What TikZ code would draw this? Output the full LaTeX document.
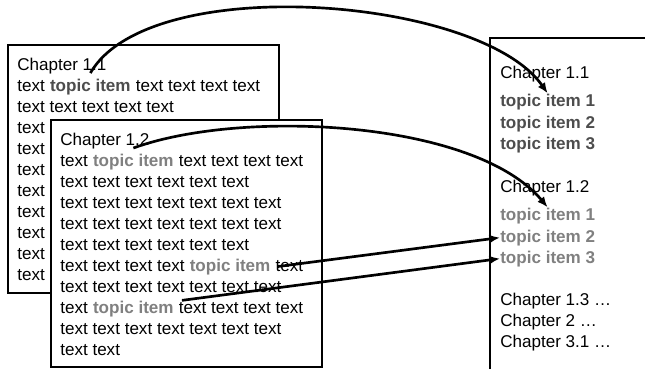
\documentclass[tikz,border=0pt]{standalone}
\usepackage{fontspec}
\setmainfont{Liberation Sans}
\usepackage{xcolor}
\usetikzlibrary{arrows.meta}

\definecolor{topicdark}{HTML}{4D4D4D}
\definecolor{topiclight}{HTML}{808080}
\newcommand{\wordgap}{3.56pt}
\newcommand{\pagefont}{\fontsize{12.8pt}{15.75pt}\selectfont}

\tikzset{
    txt/.style={anchor=base west, inner sep=0pt, font=\pagefont},
    topicA/.style={txt, font=\pagefont\bfseries, text=topicdark},
    topicB/.style={txt, font=\pagefont\bfseries, text=topiclight},
    sheet/.style={draw, line width=1.5pt, fill=white},
    link/.style={line width=2pt, -{Latex[length=8pt,width=6.5pt]}}
}

\begin{document}
\begin{tikzpicture}[x=0.75pt, y=0.75pt]
        \useasboundingbox (0,0) rectangle (645,-369);
        % back page, chapter 1.1
        \draw[sheet] (8,-45) rectangle (279,-293);
        \node[txt] (c11) at (17,-70) {Chapter 1.1};
        \node[txt] (a1) at (17,-91) {text};
        \node[topicA] (t11) at ([xshift=\wordgap]a1.base east) {topic item};
        \node[txt] (a1r) at ([xshift=\wordgap]t11.base east) {text text text text};
        \node[txt] (a2) at (17,-112) {text text text text text};
        \foreach \k in {3,...,10} {
            \node[txt] (a\k) at (17,-70-21*\k) {text};
        }
        % front page, chapter 1.2
        \draw[sheet] (51,-120) rectangle (322,-367);
        \node[txt] (c12) at (60,-145) {Chapter 1.2};
        \node[txt] (b1) at (60,-166) {text};
        \node[topicB] (t12a) at ([xshift=\wordgap]b1.base east) {topic item};
        \node[txt] (b1r) at ([xshift=\wordgap]t12a.base east) {text text text text};
        \node[txt] (b2) at (60,-187) {text text text text text text};
        \node[txt] (b3) at (60,-208) {text text text text text text text};
        \node[txt] (b4) at (60,-229) {text text text text text text text};
        \node[txt] (b5) at (60,-250) {text text text text text text};
        \node[txt] (b6) at (60,-271) {text text text text};
        \node[topicB] (t12b) at ([xshift=\wordgap]b6.base east) {topic item};
        \node[txt] (b6r) at ([xshift=\wordgap]t12b.base east) {text};
        \node[txt] (b7) at (60,-292) {text text text text text text text};
        \node[txt] (b8) at (60,-313) {text};
        \node[topicB] (t12c) at ([xshift=\wordgap]b8.base east) {topic item};
        \node[txt] (b8r) at ([xshift=\wordgap]t12c.base east) {text text text text};
        \node[txt] (b9) at (60,-334) {text text text text text text text};
        \node[txt] (b10) at (60,-355) {text text};
        % summary page
        \draw[line width=1.5pt] (490,-369) |- (645,-38);
        \node[txt] (r11) at (500,-78) {Chapter 1.1};
        \foreach \k/\y in {1/106,2/128,3/149} {
            \node[topicA] (r11-\k) at (500,-\y) {topic item \k};
        }
        \node[txt] (r12) at (500,-192) {Chapter 1.2};
        \foreach \k/\y in {1/220,2/242,3/263} {
            \node[topicB] (r12-\k) at (500,-\y) {topic item \k};
        }
        \node[txt] (r13) at (500,-305) {Chapter 1.3 …};
        \node[txt] (r2) at (500,-326) {Chapter 2 …};
        \node[txt] (r31) at (500,-347) {Chapter 3.1 …};
        % links
        \draw[link] ([yshift=4pt]t11.north) to[out=60, in=125, looseness=0.66] (r11-1.north);
        \draw[link] ([yshift=4pt]t12a.north) to[out=20, in=130, looseness=0.7] (r12-1.north);
        \draw[link] ([xshift=5pt]t12b.east) -- (r12-2.west);
        \draw[link] ([xshift=6pt]t12c.north east) -- (r12-3.west);
    \end{tikzpicture}
\end{document}
